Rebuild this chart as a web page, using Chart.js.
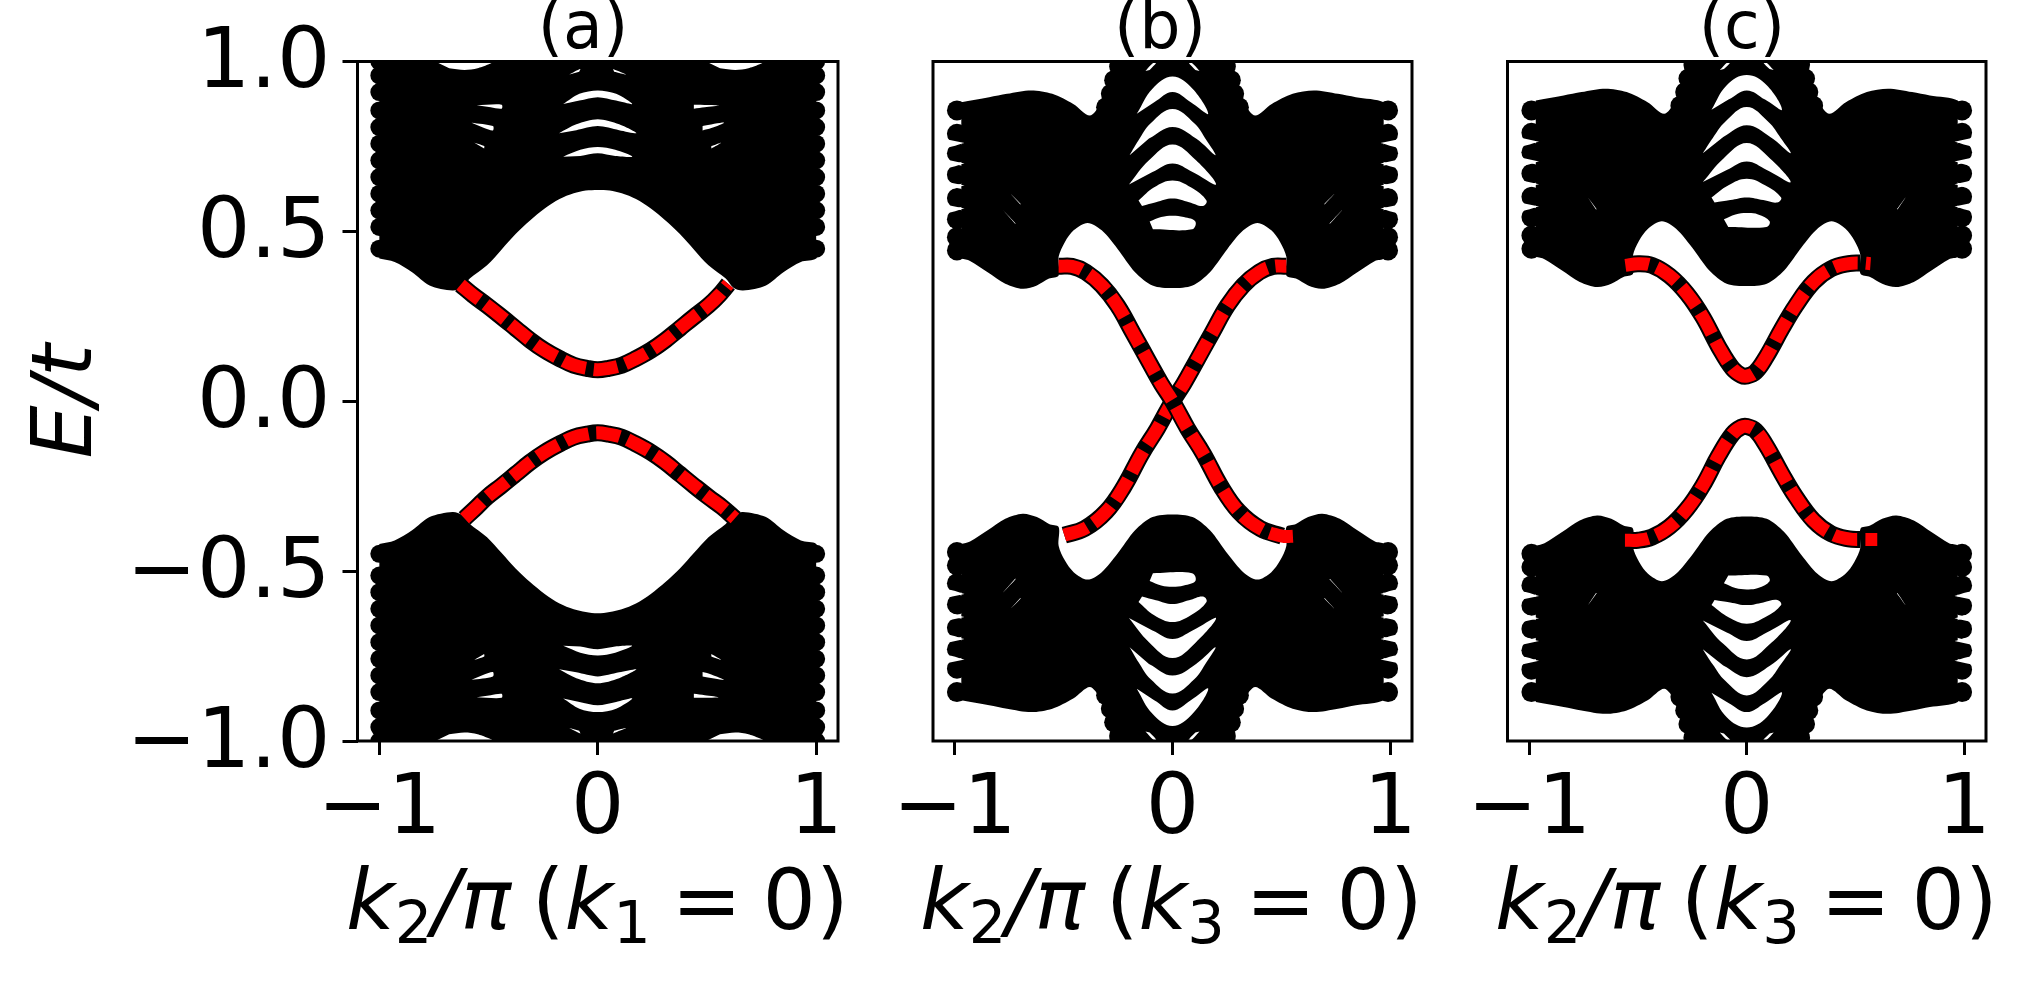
<!DOCTYPE html>
<html>
<head>
<meta charset="utf-8">
<script src="https://cdn.jsdelivr.net/npm/chart.js@4"></script>
<style>
  body { margin: 0; background: #fff; overflow: hidden; width: 2031px; height: 981px; position: relative; }
  canvas { position: absolute; top: 0; }
  .lbl { position: absolute; font-family: "DejaVu Sans"; color: #000; white-space: nowrap; line-height: 1; }
  .ttl { font-size: 65px; top: -7px; transform: translateX(-50%); }
  .xl { font-size: 84px; top: 858px; word-spacing: -6px; }
  .xl sub { font-size: 59px; font-style: normal; line-height: 0; vertical-align: -14px; }
</style>
</head>
<body>
<canvas id="panelA" width="880" height="981" style="left:0"></canvas>
<canvas id="panelB" width="570" height="981" style="left:880px"></canvas>
<canvas id="panelC" width="581" height="981" style="left:1450px"></canvas>
<div class="lbl ttl" style="left:583px">(a)</div>
<div class="lbl ttl" style="left:1160px">(b)</div>
<div class="lbl ttl" style="left:1742px">(c)</div>
<div class="lbl xl" style="left:346px"><i>k</i><sub>2</sub><i>/π</i> (<i>k</i><sub>1</sub> = 0)</div>
<div class="lbl xl" style="left:920px"><i>k</i><sub>2</sub><i>/π</i> (<i>k</i><sub>3</sub> = 0)</div>
<div class="lbl xl" style="left:1495px"><i>k</i><sub>2</sub><i>/π</i> (<i>k</i><sub>3</sub> = 0)</div>
<script>
const xTicks = [-1, 0, 1];
const xTickLabels = ['−1', '0', '1'];
const yTicks = [-1, -0.5, 0, 0.5, 1];
const yTickLabels = ['−1.0', '−0.5', '0.0', '0.5', '1.0'];

// panel a: bulk outline
const aBulkK = [-1,-.93,-.85,-.77,-.665,-.62,-.586,-.507,-.44,-.375,-.31,-.243,-.175,-.11,-.055,0,.055,.11,.175,.243,.31,.375,.44,.507,.586,.62,.665,.77,.85,.93,1,1,1,1,-1,-1];
const aBulkUp = [.42,.41,.38,.341,.326,.335,.361,.40,.447,.493,.532,.567,.595,.612,.62,.622,.62,.612,.595,.567,.532,.493,.447,.40,.361,.335,.326,.341,.38,.41,.42,.45,.97,1.05,1.05,.97];
const aBulkLow = [-.42,-.41,-.38,-.341,-.326,-.335,-.361,-.40,-.447,-.493,-.532,-.567,-.595,-.612,-.62,-.624,-.62,-.612,-.595,-.567,-.532,-.493,-.447,-.40,-.361,-.335,-.326,-.341,-.38,-.41,-.42,-.45,-.97,-1.05,-1.05,-.97];
// panel a: white gaps between the bands, null separates them
const aGapK = [-.13,-.08,-.085,null,.07,.13,.075,null,
  -.158,-.084,0,.084,.158,.084,0,-.084,null,
  -.177,-.098,0,.098,.177,.098,0,-.098,null,
  -.158,-.08,0,.08,.158,.08,0,-.08,null,
  -.554,-.44,-.44,-.49,null,-.578,-.48,-.48,-.52,null,-.565,-.52,-.52,null,
  .44,.554,.49,.44,null,.48,.578,.52,.48,null,.52,.565,.52,null,
  -.744,-.48,-.55,-.61,-.68,null,.496,.76,.69,.63,.56];
const aGapUp = [.962,.978,.97,null,.978,.962,.97,null,
  .875,.905,.915,.905,.875,.885,.895,.885,null,
  .789,.815,.83,.815,.789,.798,.81,.798,null,
  .72,.74,.748,.74,.72,.722,.73,.722,null,
  .871,.873,.861,.865,null,.82,.81,.797,.804,null,.761,.751,.744,null,
  .873,.871,.865,.861,null,.81,.82,.804,.797,null,.751,.761,.744,null,
  1,1,.98,.975,.98,null,1,1,.98,.975,.98];
const aGapLow = [-.962,-.978,-.97,null,-.978,-.962,-.97,null,
  -.875,-.905,-.915,-.905,-.875,-.885,-.895,-.885,null,
  -.789,-.815,-.83,-.815,-.789,-.798,-.81,-.798,null,
  -.72,-.74,-.748,-.74,-.72,-.722,-.73,-.722,null,
  -.871,-.873,-.861,-.865,null,-.82,-.81,-.797,-.804,null,-.761,-.751,-.744,null,
  -.873,-.871,-.865,-.861,null,-.81,-.82,-.804,-.797,null,-.751,-.761,-.744,null,
  -1,-1,-.98,-.975,-.98,null,-1,-1,-.98,-.975,-.98];
// panel a: band ends at k = +-1 and the surface bands
const aEndK = [-1,-1,-1,-1,-1,-1,-1,-1,-1,-1,-1,-1,1,1,1,1,1,1,1,1,1,1,1,1];
const aEndUp = [.449,.513,.562,.611,.66,.709,.758,.807,.856,.91,.959,1,.449,.513,.562,.611,.66,.709,.758,.807,.856,.91,.959,1];
const aEndLow = [-.449,-.513,-.562,-.611,-.66,-.709,-.758,-.807,-.856,-.91,-.959,-1,-.449,-.513,-.562,-.611,-.66,-.709,-.758,-.807,-.856,-.91,-.959,-1];
const aSurfUpK = [-.628,-.57,-.507,-.44,-.375,-.31,-.243,-.17,-.11,-.05,0,.05,.11,.17,.243,.31,.375,.44,.507,.555,.598];
const aSurfUp = [.343,.312,.282,.248,.214,.18,.15,.124,.106,.097,.093,.097,.106,.124,.15,.18,.214,.248,.282,.312,.345];
const aSurfLowK = [-.61,-.555,-.507,-.44,-.375,-.31,-.243,-.17,-.11,-.05,0,.05,.11,.17,.243,.31,.375,.44,.507,.57,.628];
const aSurfLow = [-.345,-.312,-.282,-.248,-.214,-.18,-.15,-.124,-.106,-.097,-.093,-.097,-.106,-.124,-.15,-.18,-.214,-.248,-.282,-.312,-.345];

// panel b: bulk outline
const bBulkK = [-.97,-.93,-.849,-.768,-.688,-.623,-.567,-.523,-.523,-.494,-.454,-.39,-.325,-.253,-.172,-.092,0,.092,.172,.253,.325,.39,.454,.494,.523,.523,.567,.623,.688,.768,.849,.93,.97,.97,.97,.97,.842,.76,.649,.552,.456,.38,.33,.29,.26,.25,-.25,-.26,-.29,-.33,-.38,-.456,-.552,-.649,-.76,-.842,-.97];
const bBulkUp = [.42,.413,.38,.346,.331,.341,.361,.37,.425,.469,.503,.525,.503,.449,.38,.341,.333,.341,.38,.449,.503,.525,.503,.469,.425,.37,.361,.341,.331,.346,.38,.413,.42,.45,.85,.88,.895,.905,.915,.905,.875,.841,.875,.92,.96,1,1,.96,.92,.875,.841,.875,.905,.915,.905,.895,.88];
const bBulkLow = [-.42,-.413,-.38,-.346,-.331,-.341,-.361,-.37,-.425,-.469,-.503,-.525,-.503,-.449,-.38,-.341,-.333,-.341,-.38,-.449,-.503,-.525,-.503,-.469,-.425,-.37,-.361,-.341,-.331,-.346,-.38,-.413,-.42,-.45,-.85,-.88,-.895,-.905,-.915,-.905,-.875,-.841,-.875,-.92,-.96,-1,-1,-.96,-.92,-.875,-.841,-.875,-.905,-.915,-.905,-.895,-.88];
const bGapK = [-.124,-.088,-.075,-.105,null,.105,.075,.088,.124,null,
  -.164,-.092,0,.092,.164,.084,0,-.084,null,
  -.197,-.156,-.1,0,.1,.156,.197,.108,0,-.108,null,
  -.2,-.108,0,.108,.2,.092,0,-.092,null,
  -.156,-.084,0,.084,.156,.14,.076,0,-.076,-.14,null,
  -.105,-.052,0,.052,.105,.09,-.09,null,
  -.744,-.696,-.7,null,-.78,-.72,-.724,null,.696,.744,.7,null,.72,.78,.724,null,
  -1.045,-1.045,-.955,null,-1.045,-1.045,-.955,null,-1.045,-1.045,-.955,null,-1.045,-1.045,-.955,null,
  1.045,1.045,.955,null,1.045,1.045,.955,null,1.045,1.045,.955,null,1.045,1.045,.955];
const bGapUp = [.972,.996,.996,.975,null,.975,.996,.996,.972,null,
  .846,.92,.956,.92,.846,.88,.91,.88,null,
  .724,.768,.818,.86,.818,.768,.724,.773,.807,.773,null,
  .638,.709,.756,.709,.638,.675,.70,.675,null,
  .591,.63,.65,.63,.591,.575,.586,.597,.586,.575,null,
  .529,.542,.546,.542,.529,.506,.506,null,
  .611,.58,.58,null,.564,.523,.523,null,.58,.611,.58,null,.523,.564,.523,null,
  .772,.748,.76,null,.712,.688,.70,null,.647,.623,.635,null,.579,.555,.567,null,
  .772,.748,.76,null,.712,.688,.70,null,.647,.623,.635,null,.579,.555,.567];
const bGapLow = [-.972,-.996,-.996,-.975,null,-.975,-.996,-.996,-.972,null,
  -.846,-.92,-.956,-.92,-.846,-.88,-.91,-.88,null,
  -.724,-.768,-.818,-.86,-.818,-.768,-.724,-.773,-.807,-.773,null,
  -.638,-.709,-.756,-.709,-.638,-.675,-.70,-.675,null,
  -.591,-.63,-.65,-.63,-.591,-.575,-.586,-.597,-.586,-.575,null,
  -.529,-.542,-.546,-.542,-.529,-.506,-.506,null,
  -.611,-.58,-.58,null,-.564,-.523,-.523,null,-.58,-.611,-.58,null,-.523,-.564,-.523,null,
  -.772,-.748,-.76,null,-.712,-.688,-.70,null,-.647,-.623,-.635,null,-.579,-.555,-.567,null,
  -.772,-.748,-.76,null,-.712,-.688,-.70,null,-.647,-.623,-.635,null,-.579,-.555,-.567];
const bEndK = [-.99,-.99,-.99,-.99,-.99,-.99,-.99,-.99,.99,.99,.99,.99,.99,.99,.99,.99,-.305,-.283,-.268,-.245,.305,.283,.268,.245];
const bEndUp = [.856,.787,.73,.667,.598,.536,.483,.444,.856,.787,.73,.667,.598,.536,.483,.444,.865,.905,.945,.985,.865,.905,.945,.985];
const bEndLow = [-.856,-.787,-.73,-.667,-.598,-.536,-.483,-.444,-.856,-.787,-.73,-.667,-.598,-.536,-.483,-.444,-.865,-.905,-.945,-.985,-.865,-.905,-.945,-.985];
const bSurfDownK = [-.523,-.462,-.398,-.325,-.253,-.18,-.108,-.052,0,.069,.142,.222,.305,.404,.504,.563];
const bSurfDown = [.397,.397,.38,.341,.282,.199,.116,.052,0,-.08,-.155,-.25,-.325,-.375,-.397,-.397];
const bSurfRiseK = [-.497,-.404,-.305,-.222,-.142,-.069,0,.052,.108,.18,.253,.325,.398,.462,.523];
const bSurfRise = [-.394,-.375,-.325,-.25,-.155,-.08,0,.052,.116,.199,.282,.341,.38,.397,.397];

// panel c: bulk outline
const cBulkK = [-.97,-.93,-.849,-.768,-.688,-.623,-.567,-.523,-.523,-.494,-.454,-.39,-.325,-.253,-.172,-.092,0,.092,.172,.253,.325,.39,.454,.494,.523,.523,.567,.623,.688,.768,.849,.93,.97,.97,.97,.97,.842,.76,.649,.552,.456,.38,.33,.29,.26,.25,-.25,-.26,-.29,-.33,-.38,-.456,-.552,-.649,-.76,-.842,-.97];
const cBulkUp = [.425,.418,.385,.351,.336,.346,.366,.375,.43,.474,.508,.53,.508,.454,.385,.346,.339,.346,.385,.454,.508,.53,.508,.474,.43,.375,.366,.346,.336,.351,.385,.418,.425,.45,.85,.885,.9,.91,.92,.91,.88,.846,.88,.925,.965,1,1,.965,.925,.88,.846,.88,.91,.92,.91,.9,.885];
const cBulkLow = [-.425,-.418,-.385,-.351,-.336,-.346,-.366,-.375,-.43,-.474,-.508,-.53,-.508,-.454,-.385,-.346,-.339,-.346,-.385,-.454,-.508,-.53,-.508,-.474,-.43,-.375,-.366,-.346,-.336,-.351,-.385,-.418,-.425,-.45,-.85,-.885,-.9,-.91,-.92,-.91,-.88,-.846,-.88,-.925,-.965,-1,-1,-.965,-.925,-.88,-.846,-.88,-.91,-.92,-.91,-.9,-.885];
const cGapK = [-.124,-.088,-.075,-.105,null,.105,.075,.088,.124,null,
  -.162,-.092,0,.092,.162,.084,0,-.084,null,
  -.202,-.156,-.1,0,.1,.156,.202,.108,0,-.108,null,
  -.202,-.108,0,.108,.202,.092,0,-.092,null,
  -.162,-.084,0,.084,.158,.14,.076,0,-.076,-.148,null,
  -.105,-.052,0,.052,.105,.09,-.085,null,
  -.73,-.69,-.694,null,.69,.73,.694,null,
  -1.045,-1.045,-.955,null,-1.045,-1.045,-.955,null,-1.045,-1.045,-.955,null,-1.045,-1.045,-.955,null,
  1.045,1.045,.955,null,1.045,1.045,.955,null,1.045,1.045,.955,null,1.045,1.045,.955];
const cGapUp = [.975,.998,.998,.978,null,.978,.998,.998,.975,null,
  .858,.93,.96,.93,.858,.888,.915,.888,null,
  .73,.775,.822,.866,.822,.775,.73,.778,.812,.778,null,
  .645,.714,.76,.714,.645,.681,.706,.681,null,
  .60,.636,.655,.636,.60,.585,.592,.60,.592,.585,null,
  .536,.55,.554,.55,.53,.513,.513,null,
  .6,.565,.565,null,.565,.6,.565,null,
  .776,.752,.764,null,.718,.694,.706,null,.651,.627,.639,null,.585,.561,.573,null,
  .776,.752,.764,null,.718,.694,.706,null,.651,.627,.639,null,.585,.561,.573];
const cGapLow = [-.975,-.998,-.998,-.978,null,-.978,-.998,-.998,-.975,null,
  -.858,-.93,-.96,-.93,-.858,-.888,-.915,-.888,null,
  -.73,-.775,-.822,-.866,-.822,-.775,-.73,-.778,-.812,-.778,null,
  -.645,-.714,-.76,-.714,-.645,-.681,-.706,-.681,null,
  -.60,-.636,-.655,-.636,-.60,-.585,-.592,-.60,-.592,-.585,null,
  -.536,-.55,-.554,-.55,-.53,-.513,-.513,null,
  -.6,-.565,-.565,null,-.565,-.6,-.565,null,
  -.776,-.752,-.764,null,-.718,-.694,-.706,null,-.651,-.627,-.639,null,-.585,-.561,-.573,null,
  -.776,-.752,-.764,null,-.718,-.694,-.706,null,-.651,-.627,-.639,null,-.585,-.561,-.573];
const cEndK = [-.99,-.99,-.99,-.99,-.99,-.99,-.99,-.99,.99,.99,.99,.99,.99,.99,.99,.99,-.305,-.283,-.268,-.245,.305,.283,.268,.245];
const cEndUp = [.856,.79,.733,.67,.602,.542,.488,.449,.856,.79,.733,.67,.602,.542,.488,.449,.87,.91,.95,.99,.87,.91,.95,.99];
const cEndLow = [-.856,-.79,-.733,-.67,-.602,-.542,-.488,-.449,-.856,-.79,-.733,-.67,-.602,-.542,-.488,-.449,-.87,-.91,-.95,-.99,-.87,-.91,-.95,-.99];
const cSurfUpK = [-.558,-.5,-.436,-.356,-.275,-.202,-.129,-.065,-.024,0,.04,.089,.162,.226,.307,.388,.469,.525,.569];
const cSurfUp = [.40,.405,.40,.37,.317,.248,.16,.096,.076,.074,.086,.13,.214,.282,.351,.39,.405,.407,.405];
const cSurfLowK = [-.56,-.5,-.436,-.356,-.275,-.202,-.129,-.065,-.024,0,.04,.089,.162,.226,.307,.388,.469,.525,.6];
const cSurfLow = [-.409,-.409,-.40,-.37,-.317,-.248,-.16,-.096,-.076,-.074,-.086,-.13,-.214,-.282,-.351,-.39,-.405,-.407,-.407];

const font = 'DejaVu Sans';

function pts(xs, ys) {
  return xs.map((x, i) => ({x: x, y: ys[i]}));
}
// red dashes over a wider black line, trim stops the black one point early
function surface(xs, ys, trim) {
  const under = pts(xs, ys);
  if (trim) under.pop();
  return [
    {data: pts(xs, ys), showLine: true, borderColor: '#ff0000', borderWidth: 13, borderDash: [24, 8], pointRadius: 0, tension: 0.4, clip: 0},
    {data: under, showLine: true, borderColor: '#000', borderWidth: 17, pointRadius: 0, tension: 0.4, clip: 0}
  ];
}
function area(xs, ys, color, tension) {
  return {data: pts(xs, ys), showLine: true, fill: 'shape', backgroundColor: color, borderColor: color, borderWidth: 0, pointRadius: 0, tension: tension, clip: 0};
}
function ends(xs, ys, r) {
  return {data: pts(xs, ys), showLine: false, pointRadius: r, pointBackgroundColor: '#000', pointBorderWidth: 0, clip: 0};
}

// draws the axes box over the data
const frame = {
  id: 'frame',
  afterDatasetsDraw(chart) {
    const a = chart.chartArea, ctx = chart.ctx;
    ctx.save();
    ctx.strokeStyle = '#000';
    ctx.lineWidth = 3;
    ctx.strokeRect(a.left, a.top, a.right - a.left, a.bottom - a.top);
    ctx.restore();
  }
};

function panel(id, datasets, padLeft, padRight, showY) {
  new Chart(document.getElementById(id), {
    type: 'scatter',
    data: {datasets: datasets},
    plugins: [frame],
    options: {
      responsive: false,
      animation: false,
      events: [],
      layout: {padding: {left: padLeft, right: padRight, top: 61.5, bottom: 0}},
      plugins: {legend: {display: false}, tooltip: {enabled: false}, title: {display: false}},
      scales: {
        x: {
          min: -1.1, max: 1.1,
          afterBuildTicks: s => { s.ticks = xTicks.map(v => ({value: v})); },
          afterFit: s => { s.height = 240; },
          border: {display: false},
          grid: {drawOnChartArea: false, tickLength: 14, tickWidth: 3, tickColor: '#000'},
          ticks: {color: '#000', padding: 6, maxRotation: 0, autoSkip: false, font: {family: font, size: 84},
            callback: v => xTickLabels[xTicks.indexOf(v)]}
        },
        y: {
          display: showY,
          min: -1, max: 1,
          afterBuildTicks: s => { s.ticks = yTicks.map(v => ({value: v})); },
          afterFit: s => { s.width = showY ? 357.5 : 0; },
          border: {display: false},
          grid: {drawOnChartArea: false, tickLength: 15, tickWidth: 3, tickColor: '#000'},
          title: {display: true, text: 'E/t', color: '#000', padding: {top: 27, bottom: 0},
            font: {family: font, size: 84, style: 'italic', lineHeight: 1}},
          ticks: {color: '#000', padding: 12, labelOffset: 4, autoSkip: false, font: {family: font, size: 84, lineHeight: 1},
            callback: v => yTickLabels[yTicks.indexOf(v)]}
        }
      }
    }
  });
}

// first dataset ends up on top
panel('panelA', [
  ...surface(aSurfUpK, aSurfUp, false), ...surface(aSurfLowK, aSurfLow, false),
  area(aGapK, aGapUp, '#fff', 0.3), area(aGapK, aGapLow, '#fff', 0.3),
  ends(aEndK, aEndUp, 9), ends(aEndK, aEndLow, 9),
  area(aBulkK, aBulkUp, '#000', 0.3), area(aBulkK, aBulkLow, '#000', 0.3)
], 0, 42, true);

panel('panelB', [
  ...surface(bSurfDownK, bSurfDown, true), ...surface(bSurfRiseK, bSurfRise, false),
  area(bGapK, bGapUp, '#fff', 0.4), area(bGapK, bGapLow, '#fff', 0.4),
  ends(bEndK, bEndUp, 10), ends(bEndK, bEndLow, 10),
  area(bBulkK, bBulkUp, '#000', 0.3), area(bBulkK, bBulkLow, '#000', 0.3)
], 53, 38, false);

panel('panelC', [
  ...surface(cSurfUpK, cSurfUp, true), ...surface(cSurfLowK, cSurfLow, true),
  area(cGapK, cGapUp, '#fff', 0.4), area(cGapK, cGapLow, '#fff', 0.4),
  ends(cEndK, cEndUp, 10), ends(cEndK, cEndLow, 10),
  area(cBulkK, cBulkUp, '#000', 0.3), area(cBulkK, cBulkLow, '#000', 0.3)
], 57.5, 45, false);
</script>
</body>
</html>
